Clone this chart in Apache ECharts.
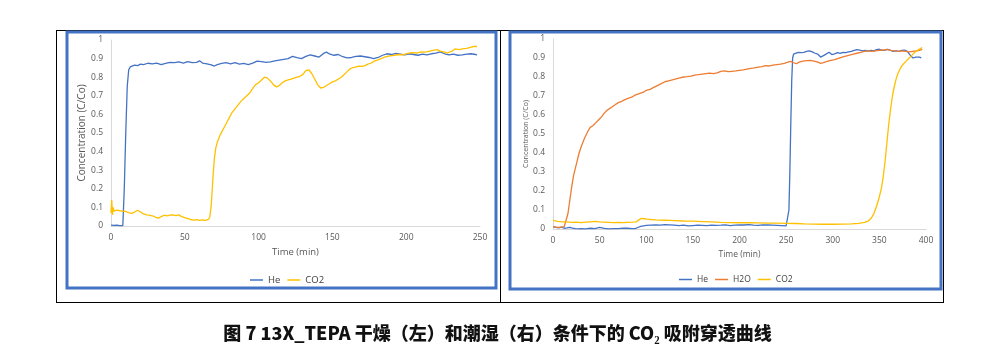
<!DOCTYPE html>
<html><head><meta charset="utf-8">
<script src="https://cdn.jsdelivr.net/npm/echarts@6/dist/echarts.min.js"></script>
<style>html,body{margin:0;padding:0;background:#fff}#c{width:995px;height:361px}</style>
</head><body><div id="c"></div>
<script>
const caption = '图 7 13X_TEPA 干燥（左）和潮湿（右）条件下的 CO₂ 吸附穿透曲线';
const yTitle = 'Concentration (C/Co)';
const xTitle = 'Time (min)';
const leftNames = ['He','CO2'];
const rightNames = ['He','H2O','CO2'];

const leftHe = [[0,0.005],[1,0.008],[2,0.003],[4,0.004],[6,0.002],[8,0.002],[9,0.2],[10,0.5],[11,0.75],[12,0.84],[13,0.855],[14,0.86],[16,0.865],[18,0.862],[20,0.87],[22,0.868],[25,0.875],[28,0.872],[31,0.876],[34,0.868],[37,0.874],[40,0.88],[43,0.878],[46,0.882],[49,0.876],[52,0.884],[55,0.878],[58,0.88],[60,0.888],[62,0.876],[65,0.872],[68,0.866],[70,0.86],[72,0.868],[75,0.874],[78,0.878],[81,0.872],[84,0.878],[87,0.87],[90,0.874],[93,0.868],[96,0.876],[99,0.886],[102,0.884],[105,0.88],[108,0.882],[111,0.888],[114,0.892],[117,0.896],[120,0.9],[123,0.912],[126,0.905],[129,0.9],[132,0.912],[135,0.92],[138,0.914],[141,0.908],[144,0.928],[146,0.935],[148,0.925],[151,0.918],[154,0.922],[157,0.91],[160,0.904],[163,0.906],[166,0.912],[169,0.914],[172,0.91],[175,0.906],[178,0.9],[181,0.906],[184,0.918],[187,0.926],[190,0.922],[193,0.928],[196,0.924],[199,0.92],[202,0.926],[205,0.922],[208,0.918],[211,0.924],[214,0.92],[217,0.926],[220,0.93],[223,0.936],[226,0.926],[229,0.92],[232,0.924],[235,0.918],[238,0.92],[241,0.924],[244,0.926],[247,0.922],[248,0.92]];
const leftCO2 = [[0,0.07],[0.5,0.14],[1,0.06],[1.5,0.1],[2,0.08],[4,0.085],[6,0.082],[8,0.08],[10,0.078],[12,0.072],[14,0.068],[16,0.075],[18,0.085],[20,0.075],[22,0.065],[24,0.06],[26,0.058],[28,0.055],[30,0.048],[32,0.042],[34,0.05],[36,0.058],[38,0.055],[40,0.058],[42,0.06],[44,0.056],[46,0.06],[48,0.05],[50,0.045],[52,0.04],[54,0.035],[56,0.032],[58,0.034],[60,0.03],[62,0.033],[64,0.03],[66,0.035],[67,0.05],[68,0.12],[69,0.25],[70,0.36],[71,0.42],[72,0.45],[74,0.49],[76,0.52],[78,0.55],[80,0.58],[82,0.61],[84,0.63],[86,0.65],[88,0.67],[90,0.685],[92,0.7],[94,0.715],[96,0.74],[98,0.76],[100,0.77],[102,0.785],[104,0.8],[106,0.795],[108,0.78],[110,0.76],[112,0.748],[114,0.755],[116,0.77],[118,0.78],[120,0.785],[122,0.79],[124,0.795],[126,0.8],[128,0.805],[130,0.815],[132,0.835],[134,0.84],[136,0.82],[138,0.79],[140,0.76],[142,0.742],[144,0.745],[146,0.755],[148,0.765],[150,0.775],[152,0.78],[154,0.79],[156,0.8],[158,0.815],[160,0.83],[162,0.845],[164,0.852],[166,0.855],[168,0.86],[170,0.858],[172,0.862],[174,0.87],[176,0.875],[178,0.885],[180,0.89],[183,0.9],[186,0.91],[189,0.915],[192,0.918],[195,0.922],[198,0.92],[201,0.928],[204,0.932],[207,0.93],[210,0.936],[213,0.935],[216,0.94],[219,0.945],[221,0.948],[223,0.94],[226,0.935],[228,0.93],[231,0.94],[233,0.952],[236,0.948],[238,0.952],[241,0.955],[244,0.962],[246,0.966],[248,0.965]];

const rightHe = [[0,0.012],[3,0.008],[6,0.006],[9,0.01],[12,0.004],[15,0.006],[18,0.009],[21,0.005],[24,0.002],[27,0.001],[30,0.002],[35,0.001],[40,0.004],[45,0.002],[50,0.008],[55,0.003],[60,0.001],[65,0.002],[70,0.002],[75,0.005],[80,0.004],[85,0.002],[88,0.002],[91,0.008],[94,0.014],[97,0.017],[100,0.019],[105,0.02],[110,0.021],[115,0.02],[120,0.023],[125,0.022],[130,0.02],[135,0.018],[140,0.02],[145,0.016],[150,0.018],[155,0.02],[160,0.019],[165,0.018],[170,0.02],[175,0.019],[180,0.02],[185,0.022],[190,0.018],[195,0.02],[200,0.022],[205,0.021],[210,0.023],[215,0.02],[220,0.019],[225,0.022],[230,0.021],[235,0.02],[240,0.019],[245,0.018],[250,0.016],[252,0.018],[253,0.1],[254,0.3],[255,0.55],[256,0.78],[257,0.9],[258,0.92],[260,0.925],[263,0.93],[266,0.928],[269,0.93],[272,0.935],[275,0.938],[278,0.932],[281,0.925],[284,0.92],[287,0.905],[289,0.902],[291,0.915],[293,0.922],[296,0.93],[299,0.918],[302,0.922],[305,0.928],[308,0.924],[311,0.93],[314,0.928],[317,0.932],[320,0.935],[323,0.94],[326,0.944],[329,0.942],[332,0.938],[335,0.94],[338,0.936],[341,0.94],[344,0.938],[347,0.944],[350,0.946],[353,0.94],[356,0.942],[359,0.945],[362,0.94],[365,0.935],[368,0.938],[371,0.935],[374,0.94],[377,0.942],[380,0.935],[383,0.915],[386,0.9],[389,0.905],[391,0.91],[393,0.905],[395,0.9]];
const rightH2O = [[0,0.012],[3,0.01],[6,0.008],[9,0.01],[12,0.012],[14,0.02],[16,0.08],[18,0.15],[20,0.22],[22,0.28],[24,0.32],[26,0.36],[28,0.4],[30,0.43],[32,0.455],[34,0.48],[36,0.5],[38,0.52],[40,0.535],[43,0.545],[46,0.56],[49,0.575],[52,0.59],[55,0.61],[58,0.625],[61,0.635],[64,0.645],[67,0.655],[70,0.665],[73,0.67],[76,0.678],[79,0.685],[82,0.69],[85,0.695],[88,0.705],[91,0.71],[94,0.715],[97,0.72],[100,0.73],[104,0.735],[108,0.745],[112,0.755],[116,0.765],[120,0.775],[124,0.78],[128,0.785],[132,0.79],[136,0.795],[140,0.8],[144,0.802],[148,0.805],[152,0.81],[156,0.812],[160,0.815],[164,0.818],[168,0.82],[172,0.818],[176,0.822],[180,0.83],[184,0.832],[188,0.828],[192,0.83],[196,0.832],[200,0.835],[204,0.838],[208,0.842],[212,0.845],[216,0.848],[220,0.852],[224,0.855],[228,0.86],[232,0.858],[236,0.862],[240,0.865],[244,0.868],[248,0.872],[252,0.878],[255,0.882],[258,0.875],[261,0.87],[264,0.878],[268,0.884],[272,0.886],[276,0.888],[280,0.884],[284,0.878],[287,0.872],[290,0.876],[294,0.882],[298,0.888],[302,0.892],[306,0.898],[310,0.905],[314,0.91],[318,0.915],[322,0.92],[326,0.925],[330,0.93],[334,0.935],[338,0.938],[342,0.935],[346,0.938],[350,0.94],[354,0.942],[358,0.945],[362,0.94],[366,0.938],[370,0.935],[374,0.938],[378,0.935],[382,0.932],[386,0.935],[390,0.938],[393,0.94],[396,0.945]];
const rightCO2 = [[0,0.045],[5,0.04],[10,0.038],[15,0.037],[20,0.035],[25,0.036],[30,0.034],[35,0.036],[40,0.038],[45,0.04],[50,0.037],[55,0.036],[60,0.035],[65,0.034],[70,0.035],[75,0.034],[80,0.035],[85,0.036],[89,0.037],[92,0.048],[95,0.056],[98,0.054],[101,0.052],[105,0.05],[110,0.048],[115,0.047],[120,0.046],[125,0.045],[130,0.044],[140,0.042],[150,0.041],[160,0.039],[170,0.037],[180,0.035],[190,0.034],[200,0.033],[210,0.033],[220,0.032],[230,0.031],[240,0.031],[250,0.03],[260,0.029],[270,0.027],[280,0.026],[290,0.025],[300,0.025],[310,0.026],[320,0.027],[328,0.03],[334,0.035],[338,0.042],[341,0.055],[344,0.08],[347,0.12],[350,0.17],[352,0.21],[354,0.27],[356,0.35],[358,0.45],[360,0.55],[362,0.63],[364,0.7],[366,0.75],[368,0.79],[370,0.82],[373,0.85],[376,0.87],[379,0.885],[382,0.9],[385,0.915],[388,0.93],[391,0.94],[394,0.95],[396,0.955]];

const C_HE = '#4472C4', C_H2O = '#ED7D31', C_CO2 = '#FFC000';
const FONT = 'Open Sans';
const txt = '#595959';

function xAxis(gi, max, fs, nfs){
  return {type:'value', gridIndex:gi, min:0, max:max, interval:50,
    name:xTitle, nameLocation:'middle', nameGap:20,
    nameTextStyle:{fontFamily:FONT, fontSize:nfs, color:txt},
    axisLine:{lineStyle:{color:'#D9D9D9'}}, axisTick:{show:false},
    axisLabel:{fontFamily:FONT, fontSize:fs, color:txt, margin:7},
    splitLine:{show:false}};
}
function yAxis(gi, fs, nfs, gap){
  return {type:'value', gridIndex:gi, min:0, max:1, interval:0.1,
    name:yTitle, nameLocation:'middle', nameGap:gap, nameRotate:90,
    nameTextStyle:{fontFamily:FONT, fontSize:nfs, color:txt},
    axisLine:{show:true, lineStyle:{color:'#D9D9D9'}}, axisTick:{show:false},
    axisLabel:{fontFamily:FONT, fontSize:fs, color:txt, margin:8,
      formatter:v=>String(Math.round(v*10)/10)},
    splitLine:{show:false}};
}
function line(name, data, color, xi){
  return {type:'line', name:name, data:data, xAxisIndex:xi, yAxisIndex:xi,
    showSymbol:false, symbol:'none', lineStyle:{color:color, width:1.3}, itemStyle:{color:color},
    animation:false};
}
function legend(names, left, fs){
  return {data:names, left:left, top:270, icon:'rect', itemWidth:13, itemHeight:1.5, itemGap:7,
    textStyle:{fontFamily:FONT, fontSize:fs, color:'#404040'}};
}

const chart = echarts.init(document.getElementById('c'), null, {renderer:'canvas'});
chart.setOption({
  backgroundColor:'#fff',
  animation:false,
  title:{text:caption, left:'center', top:319,
    textStyle:{fontFamily:'Noto Sans CJK SC', fontWeight:900, fontSize:18, color:'#111'}},
  grid:[{left:111, right:515, top:40, bottom:135},
        {left:553, right:69, top:39, bottom:132}],
  xAxis:[xAxis(0,250,8.5,9.5), xAxis(1,400,8.5,8.5)],
  yAxis:[yAxis(0,8.5,10,23), yAxis(1,8.5,7,24)],
  legend:[legend(leftNames, 245, 9.5), legend(rightNames, 674, 8.5)],
  series:[line('He', leftHe, C_HE, 0), line('CO2', leftCO2, C_CO2, 0),
          line('He', rightHe, C_HE, 1), line('H2O', rightH2O, C_H2O, 1), line('CO2', rightCO2, C_CO2, 1)],
  graphic:[
    {type:'line', shape:{x1:56,y1:30.5,x2:944,y2:30.5}, style:{stroke:'#000', lineWidth:1}, z:0},
    {type:'line', shape:{x1:56,y1:302.5,x2:944,y2:302.5}, style:{stroke:'#000', lineWidth:1}, z:0},
    {type:'line', shape:{x1:56.5,y1:30,x2:56.5,y2:303}, style:{stroke:'#000', lineWidth:1}, z:0},
    {type:'line', shape:{x1:500.5,y1:30,x2:500.5,y2:303}, style:{stroke:'#000', lineWidth:1}, z:0},
    {type:'line', shape:{x1:943.5,y1:30,x2:943.5,y2:303}, style:{stroke:'#000', lineWidth:1}, z:0},
    {type:'rect', shape:{x:67,y:32,width:429,height:256}, style:{fill:null, stroke:'#4472C4', lineWidth:3}, z:1},
    {type:'rect', shape:{x:510,y:32,width:431,height:257}, style:{fill:null, stroke:'#4472C4', lineWidth:3}, z:1}
  ]
});
</script></body></html>
